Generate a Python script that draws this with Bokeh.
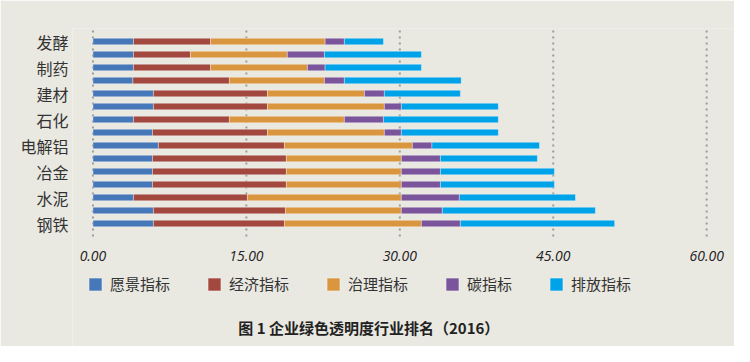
from bokeh.plotting import figure
from bokeh.models import ColumnDataSource, FixedTicker, Range1d, Legend, Label, NumeralTickFormatter
from bokeh.embed import file_html
from bokeh.resources import INLINE

# ---- data (top bar to bottom bar) ----
industries = ["发酵", "", "制药", "", "建材", "", "石化", "", "电解铝", "", "冶金", "", "水泥", "", "钢铁"]
series_names = ["愿景指标", "经济指标", "治理指标", "碳指标", "排放指标"]
vision     = [3.96, 3.96, 3.96, 3.90, 5.91, 5.91, 3.96, 5.82, 6.40, 5.82, 5.82, 5.82, 3.96, 5.91, 5.91]
economy    = [7.53, 5.57, 7.53, 9.44, 11.15, 11.15, 9.38, 11.24, 12.32, 13.09, 13.09, 13.09, 11.14, 12.91, 12.81]
governance = [11.21, 9.47, 9.48, 9.29, 9.48, 11.43, 11.24, 11.43, 12.51, 11.24, 11.24, 11.24, 15.05, 11.33, 13.39]
carbon     = [1.88, 3.63, 1.73, 1.95, 1.95, 1.66, 3.82, 1.66, 1.91, 3.82, 3.82, 3.82, 5.67, 4.01, 3.81]
emission   = [3.82, 9.48, 9.41, 11.42, 7.43, 9.48, 11.23, 9.48, 10.51, 9.48, 11.14, 11.14, 11.35, 14.96, 15.08]
x_ticks = [0, 15, 30, 45, 60]
title_text = "图 1  企业绿色透明度行业排名（2016）"

colors = ["#4677b8", "#a2483f", "#d9963f", "#7a559b", "#00a2e8"]
BG = "#e9e8e1"
CJK = "Noto Sans CJK SC"

n = len(industries)
ypos = [n - i for i in range(n)]
keys = ["vision", "economy", "governance", "carbon", "emission"]
source = ColumnDataSource(dict(y=ypos, vision=vision, economy=economy,
                               governance=governance, carbon=carbon, emission=emission))

# plot frame reaches the bottom of the canvas; bars occupy y in [0, 16]
p = figure(width=734, height=346, output_backend="svg", toolbar_location=None,
           x_range=Range1d(-2.0, 62.72), y_range=Range1d(-8.46, 16),
           min_border_left=72, min_border_right=0, min_border_top=28, min_border_bottom=0,
           background_fill_color=BG, border_fill_color=BG, outline_line_color=None)

# dotted vertical gridlines over the bar area only
grid_src = ColumnDataSource(dict(x=x_ticks, y0=[0] * len(x_ticks), y1=[16] * len(x_ticks)))
p.segment(x0="x", y0="y0", x1="x", y1="y1", source=grid_src,
          line_color="#9c9c9c", line_dash="2 4", line_width=2)

renderers = p.hbar_stack(keys, y="y", height=0.5, color=colors, source=source,
                         line_color="white", line_alpha=0.35, line_width=1)

p.xgrid.visible = False
p.ygrid.visible = False

# x axis drawn at y = 0
p.xaxis.fixed_location = 0
p.xaxis.ticker = FixedTicker(ticks=x_ticks)
p.xaxis.formatter = NumeralTickFormatter(format="0.00")
p.xaxis.axis_line_color = None
p.xaxis.major_tick_line_color = None
p.xaxis.minor_tick_line_color = None
p.xaxis.major_tick_out = 0
p.xaxis.major_label_standoff = 14
p.xaxis.major_label_text_font = "Open Sans"
p.xaxis.major_label_text_font_style = "italic"
p.xaxis.major_label_text_font_size = "14px"
p.xaxis.major_label_text_color = "#222222"

# y axis
p.yaxis.ticker = FixedTicker(ticks=[ypos[i] for i in range(n) if industries[i]])
p.yaxis.major_label_overrides = {ypos[i]: industries[i] for i in range(n) if industries[i]}
p.yaxis.axis_line_color = None
p.yaxis.major_tick_line_color = None
p.yaxis.minor_tick_line_color = None
p.yaxis.major_tick_out = 0
p.yaxis.major_label_standoff = 4
p.yaxis.major_label_text_font = CJK
p.yaxis.major_label_text_font_size = "16px"
p.yaxis.major_label_text_color = "#333333"

# legend
legend = Legend(items=[(name, [r]) for name, r in zip(series_names, renderers)],
                orientation="horizontal", location=(15, 52),
                glyph_width=16, glyph_height=16, label_standoff=7, spacing=36,
                padding=0, margin=0, border_line_alpha=0, background_fill_alpha=0,
                label_text_font=CJK, label_text_font_size="15px", label_text_color="#333333")
p.add_layout(legend, "center")

# caption
cap = Label(x=298, y=19, x_units="screen", y_units="screen", text=title_text,
            text_align="center", text_baseline="middle", text_font=CJK,
            text_font_style="bold", text_font_size="15px", text_color="#222222")
p.add_layout(cap)

open("out.html", "w").write(file_html(p, INLINE))
